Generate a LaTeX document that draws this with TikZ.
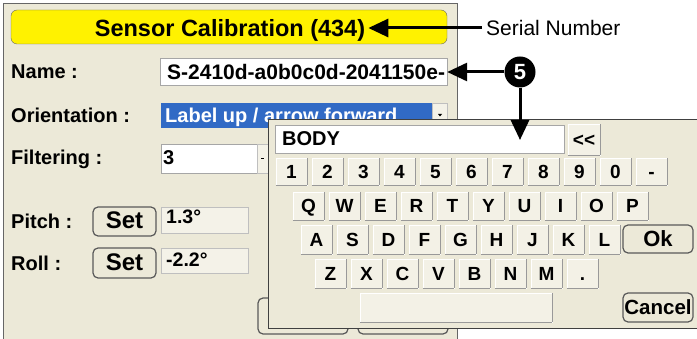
\documentclass[tikz,border=0pt]{standalone}
\usepackage{fontspec}
\setmainfont{Liberation Sans}
\usetikzlibrary{arrows.meta}
\definecolor{panel}{HTML}{ECE9D8}
\definecolor{selblue}{HTML}{316AC5}
\newcommand{\lblfont}{\fontsize{20}{24}\selectfont\bfseries}
\newcommand{\keyfont}{\fontsize{19}{21}\selectfont\bfseries}
\begin{document}
\begin{tikzpicture}[x=1pt,y=-1pt,
lbl/.style={anchor=west,inner sep=0pt,font=\lblfont,text height=14pt,text depth=0pt},
field/.style={fill=white,draw=black!35},
valbox/.style={fill=panel!60!white,draw=black!25},
btn/.style={draw=black!65,line width=1.2pt,rounded corners=5pt,fill=panel,inner sep=0pt,text height=15pt,text depth=0pt},
key/.style={minimum width=31pt,minimum height=27pt,inner sep=0pt,fill=panel!65!white,draw=white,font=\keyfont,text height=13.5pt,text depth=0pt,
 append after command={(\tikzlastnode.south west) edge[draw=black!40,line width=1.2pt] (\tikzlastnode.south east)
 (\tikzlastnode.south east) edge[draw=black!40,line width=1.2pt] (\tikzlastnode.north east)}},
pointer/.style={line width=3pt,-{Triangle[length=20pt,width=18pt]}}]
\useasboundingbox (0,0) rectangle (697,339);
% calibration window
\draw[fill=panel,draw=black!60] (3,3) rectangle (457,345);
\draw[fill=yellow,draw=black!60,rounded corners=6pt] (11,10) rectangle (447,44);
\node[inner sep=3pt,font=\fontsize{23.5}{26}\selectfont\bfseries,text height=17pt,text depth=0pt] (title) at (230,28) {Sensor Calibration (434)};
\node[lbl] (namelbl) at (11,72) {Name :};
\node[field,minimum width=287pt,minimum height=27pt,inner sep=0pt] (namefield) at (303.5,72) {};
\node[anchor=west,inner sep=3pt,font=\fontsize{21}{24}\selectfont\bfseries,text height=15pt,text depth=0pt] (nametext) at (164,72) {S-2410d-a0b0c0d-2041150e-};
\node[lbl] (orientlbl) at (11,116) {Orientation :};
\fill[selblue] (161,103) rectangle (432,128);
\draw[fill=panel!60!white,draw=black!25] (432,103) rectangle (447,128);
\fill (438,114) -- (442,114) -- (440,116.5) -- cycle;
\node[lbl,text=white,inner sep=0pt] (orient) at (165,116) {Label up / arrow forward};
\node[lbl] (filterlbl) at (11,158) {Filtering :};
\draw[field] (161,144) rectangle (257,173);
\draw[fill=panel!60!white,draw=black!25] (257,144) rectangle (270,173);
\draw (261,158) -- (264,158);
\node[lbl] (filter) at (163,158) {3};
\node[lbl] (pitchlbl) at (11,222) {Pitch :};
\node[btn,minimum width=63pt,minimum height=29pt,font=\fontsize{24}{26}\selectfont\bfseries] (pitchset) at (124.5,221.5) {Set};
\node[valbox,minimum width=87pt,minimum height=26pt] (pitchbox) at (204.5,220) {};
\node[lbl,font=\fontsize{19.5}{22}\selectfont\bfseries] (pitch) at (166,217) {1.3°};
\node[lbl] (rolllbl) at (11,264) {Roll :};
\node[btn,minimum width=63pt,minimum height=30pt,font=\fontsize{24}{26}\selectfont\bfseries] (rollset) at (124.5,263) {Set};
\node[valbox,minimum width=87pt,minimum height=25pt] (rollbox) at (204.5,260.5) {};
\node[lbl,font=\fontsize{19.5}{22}\selectfont\bfseries] (roll) at (166,259.5) {-2.2°};
\node[btn,minimum width=90pt,minimum height=36pt] (btna) at (303,316) {};
\node[btn,minimum width=90pt,minimum height=36pt] (btnb) at (403,316) {};
% keyboard
\draw[fill=panel,draw=black!75] (268,119) rectangle (700,328);
\node[field,minimum width=289pt,minimum height=28pt,inner sep=0pt] (bodyfield) at (419.5,139) {};
\node[lbl] (body) at (282,139) {BODY};
\node[key,minimum width=32pt,minimum height=31pt] (back) at (584,139.5) {<{}<};
\foreach \c [count=\i from 0] in {1,2,3,4,5,6,7,8,9,0,-}
  \node[key] (n\i) at (291.5+36*\i,171.5) {\c};
\foreach \c [count=\i from 0] in {Q,W,E,R,T,Y,U,I,O,P}
  \node[key,minimum height=28pt] (q\i) at (308.5+36*\i,206) {\c};
\foreach \c [count=\i from 0] in {A,S,D,F,G,H,J,K,L}
  \node[key,minimum height=29pt] (a\i) at (316.5+36*\i,239.5) {\c};
\foreach \c [count=\i from 0] in {Z,X,C,V,B,N,M,.}
  \node[key,minimum height=29pt] (z\i) at (330.5+36*\i,273.5) {\c};
\node[key,minimum width=192pt,minimum height=29pt] (space) at (456,307.5) {};
\node[btn,minimum width=70pt,minimum height=28pt,font=\fontsize{22}{24}\selectfont\bfseries] (ok) at (658,239) {Ok};
\node[btn,minimum width=70pt,minimum height=29pt,font=\fontsize{20.5}{24}\selectfont\bfseries] (cancel) at (658,307.5) {Cancel};
% callouts
\node[anchor=west,inner sep=4pt,font=\fontsize{21}{24}\selectfont,text height=14.5pt,text depth=0pt] (serial) at (482,28) {Serial Number};
\draw[pointer] (serial.west) -- (title.east);
\node[circle,fill=black,text=white,minimum size=31pt,inner sep=0pt,font=\fontsize{22}{24}\selectfont\bfseries] (five) at (520,72) {5};
\coordinate (bodytip) at (520,140);
\draw[pointer] (five) -- (namefield.east);
\draw[pointer] (five) -- (bodytip);
\end{tikzpicture}
\end{document}
